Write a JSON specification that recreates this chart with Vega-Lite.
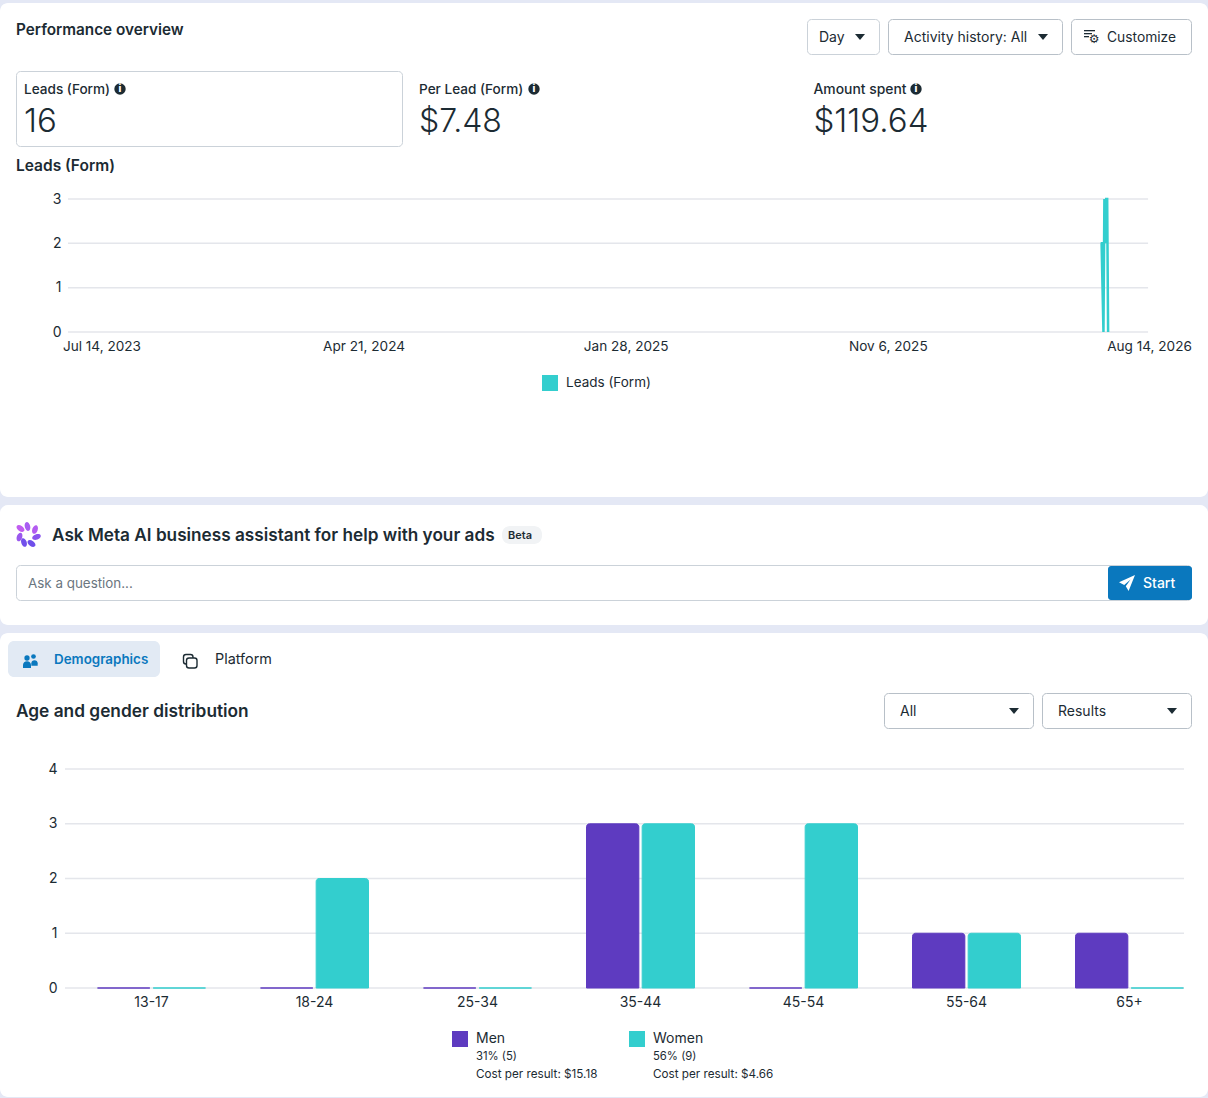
{
"$schema":"https://vega.github.io/schema/vega-lite/v6.json",
"width":1208,"height":1098,"padding":0,"autosize":{"type":"none"},
"background":"#E4E8F5",
"config":{"view":{"stroke":null},"axis":{"disable":true},"text":{"font":"Inter","align":"left","baseline":"middle","dy":1,"color":"#1C2B33","fontSize":14},"point":{"filled":true,"opacity":1,"strokeWidth":0}},
"resolve":{"scale":{"x":"independent","y":"independent","color":"independent","stroke":"independent"},"axis":{"x":"independent","y":"independent"},"legend":{"color":"independent"}},
"layer":[
{"data":{"values":[{"section":"page chrome"}]},"layer":[
{"mark":{"type":"rect","fill":"#FFFFFF","cornerRadius":8},"encoding":{"x":{"datum":0,"scale":{"domain":[0,1208],"range":[0,1208],"nice":false}},"x2":{"datum":1208},"y":{"datum":3,"scale":{"domain":[0,1098],"range":[0,1098],"nice":false}},"y2":{"datum":497}}},
{"mark":{"type":"rect","fill":"#FFFFFF","cornerRadius":8},"encoding":{"x":{"datum":0},"x2":{"datum":1208},"y":{"datum":505},"y2":{"datum":625}}},
{"mark":{"type":"rect","fill":"#FFFFFF","cornerRadius":8},"encoding":{"x":{"datum":0},"x2":{"datum":1208},"y":{"datum":633},"y2":{"datum":1097}}},
{"mark":{"type":"rect","fill":"#FFFFFF","stroke":"#CBD2D9","cornerRadius":4},"encoding":{"x":{"datum":807.5},"x2":{"datum":879.5},"y":{"datum":19.5},"y2":{"datum":54.5}}},
{"mark":{"type":"rect","fill":"#FFFFFF","stroke":"#B8C0C8","cornerRadius":4},"encoding":{"x":{"datum":888.5},"x2":{"datum":1062.5},"y":{"datum":19.5},"y2":{"datum":54.5}}},
{"mark":{"type":"rect","fill":"#FFFFFF","stroke":"#B8C0C8","cornerRadius":4},"encoding":{"x":{"datum":1071.5},"x2":{"datum":1191.5},"y":{"datum":19.5},"y2":{"datum":54.5}}},
{"mark":{"type":"rect","fill":"#FFFFFF","stroke":"#CBD2D9","cornerRadius":4},"encoding":{"x":{"datum":16.5},"x2":{"datum":402.5},"y":{"datum":71.5},"y2":{"datum":146.5}}},
{"mark":{"type":"rect","fill":"#FFFFFF","stroke":"#CBD2D9","cornerRadius":4},"encoding":{"x":{"datum":16.5},"x2":{"datum":1191.5},"y":{"datum":565.5},"y2":{"datum":600.5}}},
{"mark":{"type":"rect","fill":"#0A78BE","cornerRadius":3},"encoding":{"x":{"datum":1108},"x2":{"datum":1192},"y":{"datum":566},"y2":{"datum":600}}},
{"mark":{"type":"rect","fill":"#F1F3F5","cornerRadius":8},"encoding":{"x":{"datum":502},"x2":{"datum":542},"y":{"datum":526},"y2":{"datum":544}}},
{"mark":{"type":"rect","fill":"#E2EAF4","cornerRadius":6},"encoding":{"x":{"datum":8},"x2":{"datum":160},"y":{"datum":641},"y2":{"datum":677}}},
{"mark":{"type":"rect","fill":"#FFFFFF","stroke":"#B8C0C8","cornerRadius":4},"encoding":{"x":{"datum":884.5},"x2":{"datum":1033.5},"y":{"datum":693.5},"y2":{"datum":728.5}}},
{"mark":{"type":"rect","fill":"#FFFFFF","stroke":"#B8C0C8","cornerRadius":4},"encoding":{"x":{"datum":1042.5},"x2":{"datum":1191.5},"y":{"datum":693.5},"y2":{"datum":728.5}}},

{"mark":{"type":"text","text":"Performance overview","fontSize":15.3,"fontWeight":600},"encoding":{"x":{"datum":16},"y":{"datum":29}}},
{"mark":{"type":"text","text":"Day"},"encoding":{"x":{"datum":819},"y":{"datum":37}}},
{"mark":{"type":"text","text":"Activity history: All"},"encoding":{"x":{"datum":904},"y":{"datum":37}}},
{"mark":{"type":"text","text":"Customize","fontSize":13.8},"encoding":{"x":{"datum":1107},"y":{"datum":37}}},
{"mark":{"type":"text","text":"Leads (Form)","fontSize":13.6,"fontWeight":500},"encoding":{"x":{"datum":24},"y":{"datum":89}}},
{"mark":{"type":"text","text":"Per Lead (Form)","fontSize":13.6,"fontWeight":500},"encoding":{"x":{"datum":419},"y":{"datum":89}}},
{"mark":{"type":"text","text":"Amount spent","fontSize":13.9,"fontWeight":500},"encoding":{"x":{"datum":813.5},"y":{"datum":89}}},
{"mark":{"type":"text","text":"16","fontSize":33,"fontWeight":300},"encoding":{"x":{"datum":24},"y":{"datum":121}}},
{"mark":{"type":"text","text":"$7.48","fontSize":32,"fontWeight":300},"encoding":{"x":{"datum":419},"y":{"datum":121}}},
{"mark":{"type":"text","text":"$119.64","fontSize":33,"fontWeight":300},"encoding":{"x":{"datum":813.5},"y":{"datum":121}}},
{"mark":{"type":"text","text":"Leads (Form)","fontSize":15.5,"fontWeight":600},"encoding":{"x":{"datum":16},"y":{"datum":165}}},
{"mark":{"type":"text","text":"Ask Meta AI business assistant for help with your ads","fontSize":17.2,"fontWeight":600},"encoding":{"x":{"datum":52},"y":{"datum":535}}},
{"mark":{"type":"text","text":"Beta","fontSize":11,"fontWeight":600},"encoding":{"x":{"datum":508},"y":{"datum":535}}},
{"mark":{"type":"text","text":"Ask a question...","fontSize":13.4,"color":"#6B7680"},"encoding":{"x":{"datum":28},"y":{"datum":583}}},
{"mark":{"type":"text","text":"Start","color":"#FFFFFF","fontWeight":500},"encoding":{"x":{"datum":1143},"y":{"datum":583}}},
{"mark":{"type":"text","text":"Demographics","fontSize":13.4,"fontWeight":600,"color":"#0A78BE"},"encoding":{"x":{"datum":54},"y":{"datum":659}}},
{"mark":{"type":"text","text":"Platform","fontSize":14.4},"encoding":{"x":{"datum":215},"y":{"datum":659}}},
{"mark":{"type":"text","text":"Age and gender distribution","fontSize":17.3,"fontWeight":600},"encoding":{"x":{"datum":16},"y":{"datum":711}}},
{"mark":{"type":"text","text":"All"},"encoding":{"x":{"datum":900},"y":{"datum":711}}},
{"mark":{"type":"text","text":"Results"},"encoding":{"x":{"datum":1058},"y":{"datum":711}}},
{"mark":{"type":"text","text":"31% (5)","fontSize":11.3},"encoding":{"x":{"datum":476},"y":{"datum":1056}}},
{"mark":{"type":"text","text":"Cost per result: $15.18","fontSize":11.7},"encoding":{"x":{"datum":476},"y":{"datum":1073}}},
{"mark":{"type":"text","text":"56% (9)","fontSize":11.3},"encoding":{"x":{"datum":653},"y":{"datum":1056}}},
{"mark":{"type":"text","text":"Cost per result: $4.66","fontSize":11.7},"encoding":{"x":{"datum":653},"y":{"datum":1073}}},

{"mark":{"type":"point","shape":"M-1,-0.6L1,-0.6L0,0.6Z","size":100,"fill":"#1C2B33"},"encoding":{"x":{"datum":860},"y":{"datum":37}}},
{"mark":{"type":"point","shape":"M-1,-0.6L1,-0.6L0,0.6Z","size":100,"fill":"#1C2B33"},"encoding":{"x":{"datum":1043},"y":{"datum":37}}},
{"mark":{"type":"point","shape":"M-1,-0.6L1,-0.6L0,0.6Z","size":100,"fill":"#1C2B33"},"encoding":{"x":{"datum":1014},"y":{"datum":711}}},
{"mark":{"type":"point","shape":"M-1,-0.6L1,-0.6L0,0.6Z","size":100,"fill":"#1C2B33"},"encoding":{"x":{"datum":1172},"y":{"datum":711}}},
{"mark":{"type":"point","shape":"circle","size":130,"fill":"#1C2B33"},"encoding":{"x":{"datum":120},"y":{"datum":89}}},
{"mark":{"type":"point","shape":"circle","size":130,"fill":"#1C2B33"},"encoding":{"x":{"datum":534},"y":{"datum":89}}},
{"mark":{"type":"point","shape":"circle","size":130,"fill":"#1C2B33"},"encoding":{"x":{"datum":916},"y":{"datum":89}}},
{"mark":{"type":"text","text":"i","fontSize":10,"fontWeight":800,"color":"#FFFFFF","align":"center","dy":0},"encoding":{"x":{"datum":120},"y":{"datum":89}}},
{"mark":{"type":"text","text":"i","fontSize":10,"fontWeight":800,"color":"#FFFFFF","align":"center","dy":0},"encoding":{"x":{"datum":534},"y":{"datum":89}}},
{"mark":{"type":"text","text":"i","fontSize":10,"fontWeight":800,"color":"#FFFFFF","align":"center","dy":0},"encoding":{"x":{"datum":916},"y":{"datum":89}}},

{"mark":{"type":"rect","fill":"#1C2B33"},"encoding":{"x":{"datum":1084},"x2":{"datum":1095},"y":{"datum":30},"y2":{"datum":31.3}}},
{"mark":{"type":"rect","fill":"#1C2B33"},"encoding":{"x":{"datum":1084},"x2":{"datum":1092},"y":{"datum":33},"y2":{"datum":34.3}}},
{"mark":{"type":"rect","fill":"#1C2B33"},"encoding":{"x":{"datum":1084},"x2":{"datum":1089},"y":{"datum":36},"y2":{"datum":37.3}}},
{"mark":{"type":"text","text":"⚙","font":"DejaVu Sans","fontSize":12,"align":"center","dy":0},"encoding":{"x":{"datum":1094},"y":{"datum":39}}},

{"mark":{"type":"point","shape":"M1,-1L-1,-0.1L-0.35,0.25L0.45,-0.45L-0.15,0.4L0.2,1Z","size":256,"fill":"#FFFFFF"},"encoding":{"x":{"datum":1127},"y":{"datum":583}}},

{"mark":{"type":"point","shape":"M-1,0A1,0.6 0 1,1 1,0A1,0.6 0 1,1 -1,0Z","size":81,"fill":"#A85CF2","angle":75},"encoding":{"x":{"datum":27.5},"y":{"datum":526.5}}},
{"mark":{"type":"point","shape":"M-1,0A1,0.6 0 1,1 1,0A1,0.6 0 1,1 -1,0Z","size":81,"fill":"#C05CF0","angle":35},"encoding":{"x":{"datum":20.5},"y":{"datum":528.5}}},
{"mark":{"type":"point","shape":"M-1,0A1,0.6 0 1,1 1,0A1,0.6 0 1,1 -1,0Z","size":81,"fill":"#B35CF0","angle":110},"encoding":{"x":{"datum":35},"y":{"datum":529.5}}},
{"mark":{"type":"point","shape":"M-1,0A1,0.6 0 1,1 1,0A1,0.6 0 1,1 -1,0Z","size":81,"fill":"#8A55EE","angle":160},"encoding":{"x":{"datum":36.5},"y":{"datum":537}}},
{"mark":{"type":"point","shape":"M-1,0A1,0.6 0 1,1 1,0A1,0.6 0 1,1 -1,0Z","size":81,"fill":"#6F4FEA","angle":35},"encoding":{"x":{"datum":31.5},"y":{"datum":543.5}}},
{"mark":{"type":"point","shape":"M-1,0A1,0.6 0 1,1 1,0A1,0.6 0 1,1 -1,0Z","size":81,"fill":"#7250EB","angle":70},"encoding":{"x":{"datum":24},"y":{"datum":542.5}}},
{"mark":{"type":"point","shape":"M-1,0A1,0.6 0 1,1 1,0A1,0.6 0 1,1 -1,0Z","size":81,"fill":"#9A58EE","angle":110},"encoding":{"x":{"datum":19.5},"y":{"datum":537}}},

{"mark":{"type":"point","shape":"circle","size":22,"fill":"#0A78BE"},"encoding":{"x":{"datum":33.5},"y":{"datum":656.5}}},
{"mark":{"type":"point","shape":"circle","size":28,"fill":"#0A78BE"},"encoding":{"x":{"datum":27},"y":{"datum":658}}},
{"mark":{"type":"point","shape":"M-1,1L-1,0.2A1,0.9 0 0 1 1,0.2L1,1Z","size":40,"fill":"#0A78BE"},"encoding":{"x":{"datum":34.5},"y":{"datum":662.5}}},
{"mark":{"type":"point","shape":"M-1,1L-1,0.2A1,0.9 0 0 1 1,0.2L1,1Z","size":64,"fill":"#0A78BE"},"encoding":{"x":{"datum":27},"y":{"datum":664}}},

{"mark":{"type":"rect","fill":"#FFFFFF","stroke":"#1C2B33","strokeWidth":1.4,"cornerRadius":2.5},"encoding":{"x":{"datum":183.5},"x2":{"datum":193},"y":{"datum":654.5},"y2":{"datum":664}}},
{"mark":{"type":"rect","fill":"#FFFFFF","stroke":"#1C2B33","strokeWidth":1.4,"cornerRadius":2.5},"encoding":{"x":{"datum":186.5},"x2":{"datum":197},"y":{"datum":658},"y2":{"datum":668}}}
]},
{"layer":[
{"data":{"values":[{"tick":0},{"tick":1},{"tick":2},{"tick":3}]},"mark":{"type":"rule","color":"#E4E6EB","strokeWidth":1.5},"encoding":{"x":{"datum":{"year":2023,"month":6,"date":8,"utc":true},"type":"temporal","title":null,
"axis":{"disable":false,"zindex":1,"orient":"bottom","grid":false,"domain":false,"ticks":false,"labelPadding":0,"offset":-752,"labelBaseline":"middle","labelFont":"Inter","labelFontSize":13.6,"labelColor":"#1C2B33","format":"%b %-d, %Y","labelOverlap":false,"labelFlush":false,"values":[{"year":2023,"month":7,"date":14,"utc":true},{"year":2024,"month":4,"date":21,"utc":true},{"year":2025,"month":1,"date":28,"utc":true},{"year":2025,"month":11,"date":6,"utc":true},{"year":2026,"month":8,"date":14,"utc":true}]}},"x2":{"datum":{"year":2026,"month":8,"date":13,"utc":true}},"y":{"field":"tick","type":"quantitative","title":null,
"axis":{"disable":false,"zindex":1,"orient":"left","grid":false,"domain":false,"ticks":false,"labelPadding":0,"offset":-61,"labelFont":"Inter","labelFontSize":14,"labelColor":"#1C2B33","values":[0,1,2,3],"format":"d"}}}},
{"data":{"values":[
{"date":"2026-06-23","metric":"Leads (Form)","leads":2},{"date":"2026-06-24","metric":"Leads (Form)","leads":2},{"date":"2026-06-25","metric":"Leads (Form)","leads":1},{"date":"2026-06-26","metric":"Leads (Form)","leads":0},{"date":"2026-06-27","metric":"Leads (Form)","leads":3},{"date":"2026-06-28","metric":"Leads (Form)","leads":2},{"date":"2026-06-29","metric":"Leads (Form)","leads":3},{"date":"2026-06-30","metric":"Leads (Form)","leads":3},{"date":"2026-07-01","metric":"Leads (Form)","leads":0}]},
"mark":{"type":"line","strokeWidth":2.5},
"encoding":{
"x":{"field":"date","type":"temporal","title":null,"scale":{"type":"utc","domain":[{"year":2023,"month":6,"date":8,"utc":true},{"year":2026,"month":8,"date":14,"utc":true}],"range":[68,1149],"nice":false},
"axis":{"disable":false,"zindex":1,"orient":"bottom","grid":false,"domain":false,"ticks":false,"labelPadding":0,"offset":-752,"labelBaseline":"middle","labelFont":"Inter","labelFontSize":13.6,"labelColor":"#1C2B33","format":"%b %-d, %Y","labelOverlap":false,"labelFlush":false,"values":[{"year":2023,"month":7,"date":14,"utc":true},{"year":2024,"month":4,"date":21,"utc":true},{"year":2025,"month":1,"date":28,"utc":true},{"year":2025,"month":11,"date":6,"utc":true},{"year":2026,"month":8,"date":14,"utc":true}]}},
"y":{"field":"leads","type":"quantitative","title":null,"scale":{"domain":[0,3],"range":[332,199],"nice":false},
"axis":{"disable":false,"zindex":1,"orient":"left","grid":false,"domain":false,"ticks":false,"labelPadding":0,"offset":-61,"labelFont":"Inter","labelFontSize":14,"labelColor":"#1C2B33","values":[0,1,2,3],"format":"d"}},
"color":{"field":"metric","type":"nominal","scale":{"range":["#33CECE"]},"legend":{"orient":"none","legendX":542,"legendY":375,"title":null,"symbolType":"square","symbolSize":256,"symbolStrokeWidth":0,"symbolFillColor":"#33CECE","labelFont":"Inter","labelFontSize":13.5,"labelColor":"#1C2B33","labelOffset":8}}
}}
]},
{"resolve":{"scale":{"x":"independent"},"axis":{"x":"independent"}},
"layer":[
{"data":{"values":[{"tick":0},{"tick":1},{"tick":2},{"tick":3},{"tick":4}]},"mark":{"type":"rule","color":"#E4E6EB","strokeWidth":1.5},"encoding":{"x":{"datum":65,"scale":{"domain":[0,1208],"range":[0,1208],"nice":false}},"x2":{"datum":1184},"y":{"field":"tick","type":"quantitative","title":null,
"axis":{"disable":false,"zindex":1,"orient":"left","grid":false,"domain":false,"ticks":false,"labelPadding":0,"offset":-57,"labelFont":"Inter","labelFontSize":14,"labelColor":"#1C2B33","values":[0,1,2,3,4],"format":"d"}}}},
{"data":{"values":[
{"age":"13-17","gender":"Men","results":0},{"age":"13-17","gender":"Women","results":0},
{"age":"18-24","gender":"Men","results":0},{"age":"18-24","gender":"Women","results":2},
{"age":"25-34","gender":"Men","results":0},{"age":"25-34","gender":"Women","results":0},
{"age":"35-44","gender":"Men","results":3},{"age":"35-44","gender":"Women","results":3},
{"age":"45-54","gender":"Men","results":0},{"age":"45-54","gender":"Women","results":3},
{"age":"55-64","gender":"Men","results":1},{"age":"55-64","gender":"Women","results":1},
{"age":"65+","gender":"Men","results":1},{"age":"65+","gender":"Women","results":0}]},
"mark":{"type":"bar","strokeWidth":1,"cornerRadiusTopLeft":3,"cornerRadiusTopRight":3},
"encoding":{
"x":{"field":"age","type":"nominal","title":null,"scale":{"range":[70,1211],"paddingInner":0,"paddingOuter":0},
"axis":{"disable":false,"zindex":1,"orient":"bottom","grid":false,"domain":false,"ticks":false,"labelPadding":0,"offset":-95.5,"labelBaseline":"middle","labelAngle":0,"labelFont":"Inter","labelFontSize":14,"labelColor":"#1C2B33"}},
"xOffset":{"field":"gender","type":"nominal","scale":{"range":[27.5,135.5],"paddingInner":0.06,"paddingOuter":0}},
"y":{"field":"results","type":"quantitative","title":null,"scale":{"domain":[0,4],"range":[988,769],"nice":false},
"axis":{"disable":false,"zindex":1,"orient":"left","grid":false,"domain":false,"ticks":false,"labelPadding":0,"offset":-57,"labelFont":"Inter","labelFontSize":14,"labelColor":"#1C2B33","values":[0,1,2,3,4],"format":"d"}},
"color":{"field":"gender","type":"nominal","scale":{"domain":["Men","Women"],"range":["#5E3BC0","#33CECE"]},"legend":{"orient":"none","legendX":452,"legendY":1031,"title":null,"columns":2,"columnPadding":123,"symbolType":"square","symbolSize":256,"symbolStrokeWidth":0,"labelFont":"Inter","labelFontSize":14,"labelColor":"#1C2B33","labelOffset":8}},
"stroke":{"field":"gender","type":"nominal","scale":{"domain":["Men","Women"],"range":["#5E3BC0","#33CECE"]},"legend":null}
}}
]}
]
}
